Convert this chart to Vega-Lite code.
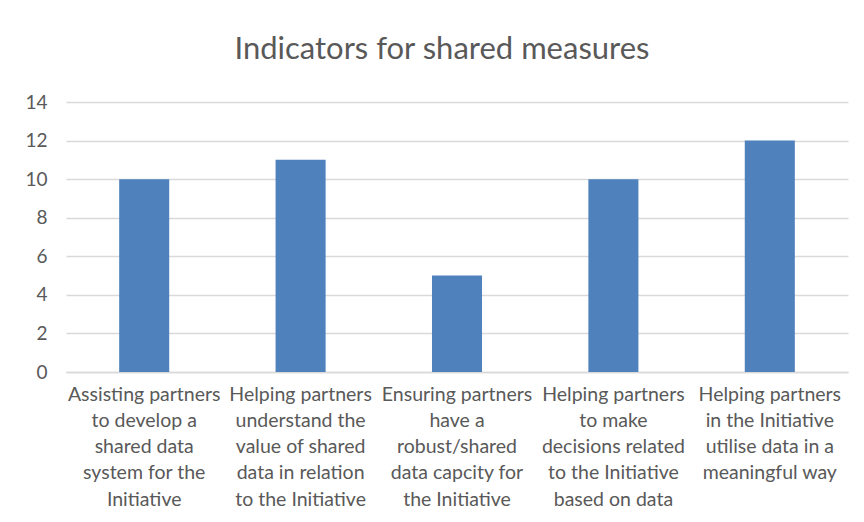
{
  "$schema": "https://vega.github.io/schema/vega-lite/v6.json",
  "width": 782,
  "height": 270,
  "autosize": {"type": "none"},
  "padding": {"left": 66, "top": 102, "right": 16, "bottom": 150},
  "background": "white",
  "title": {
    "text": "Indicators for shared measures",
    "fontSize": 31,
    "font": "Lato",
    "fontWeight": "normal",
    "color": "#595959",
    "anchor": "middle",
    "offset": 27,
    "dx": -15
  },
  "data": {
    "values": [
      {"indicator": "Assisting partners|to develop a|shared data|system for the|Initiative", "count": 10},
      {"indicator": "Helping partners|understand the|value of shared|data in relation|to the Initiative", "count": 11},
      {"indicator": "Ensuring partners|have a|robust/shared|data capcity for|the Initiative", "count": 5},
      {"indicator": "Helping partners|to make|decisions related|to the Initiative|based on data", "count": 10},
      {"indicator": "Helping partners|in the Initiative|utilise data in a|meaningful way", "count": 12}
    ]
  },
  "mark": {"type": "bar", "color": "#4F81BD"},
  "encoding": {
    "x": {
      "field": "indicator",
      "type": "nominal",
      "sort": null,
      "scale": {"paddingInner": 0.68, "paddingOuter": 0.34},
      "axis": {
        "title": null,
        "labelAngle": 0,
        "labelExpr": "split(datum.label, '|')",
        "labelFont": "Lato",
        "labelFontSize": 19.5,
        "labelColor": "#595959",
        "labelLineHeight": 26.3,
        "labelPadding": 13,
        "labelBaseline": "top",
        "labelLimit": 0,
        "ticks": false,
        "domainColor": "#d9d9d9",
        "domainWidth": 1.5
      }
    },
    "y": {
      "field": "count",
      "type": "quantitative",
      "scale": {"domain": [0, 14]},
      "axis": {
        "title": null,
        "values": [0, 2, 4, 6, 8, 10, 12, 14],
        "labelFont": "Lato",
        "labelFontSize": 19,
        "labelColor": "#595959",
        "labelPadding": 19,
        "ticks": false,
        "domain": false,
        "gridColor": "#d9d9d9",
        "gridWidth": 1.5
      }
    }
  },
  "config": {"view": {"stroke": null}}
}
